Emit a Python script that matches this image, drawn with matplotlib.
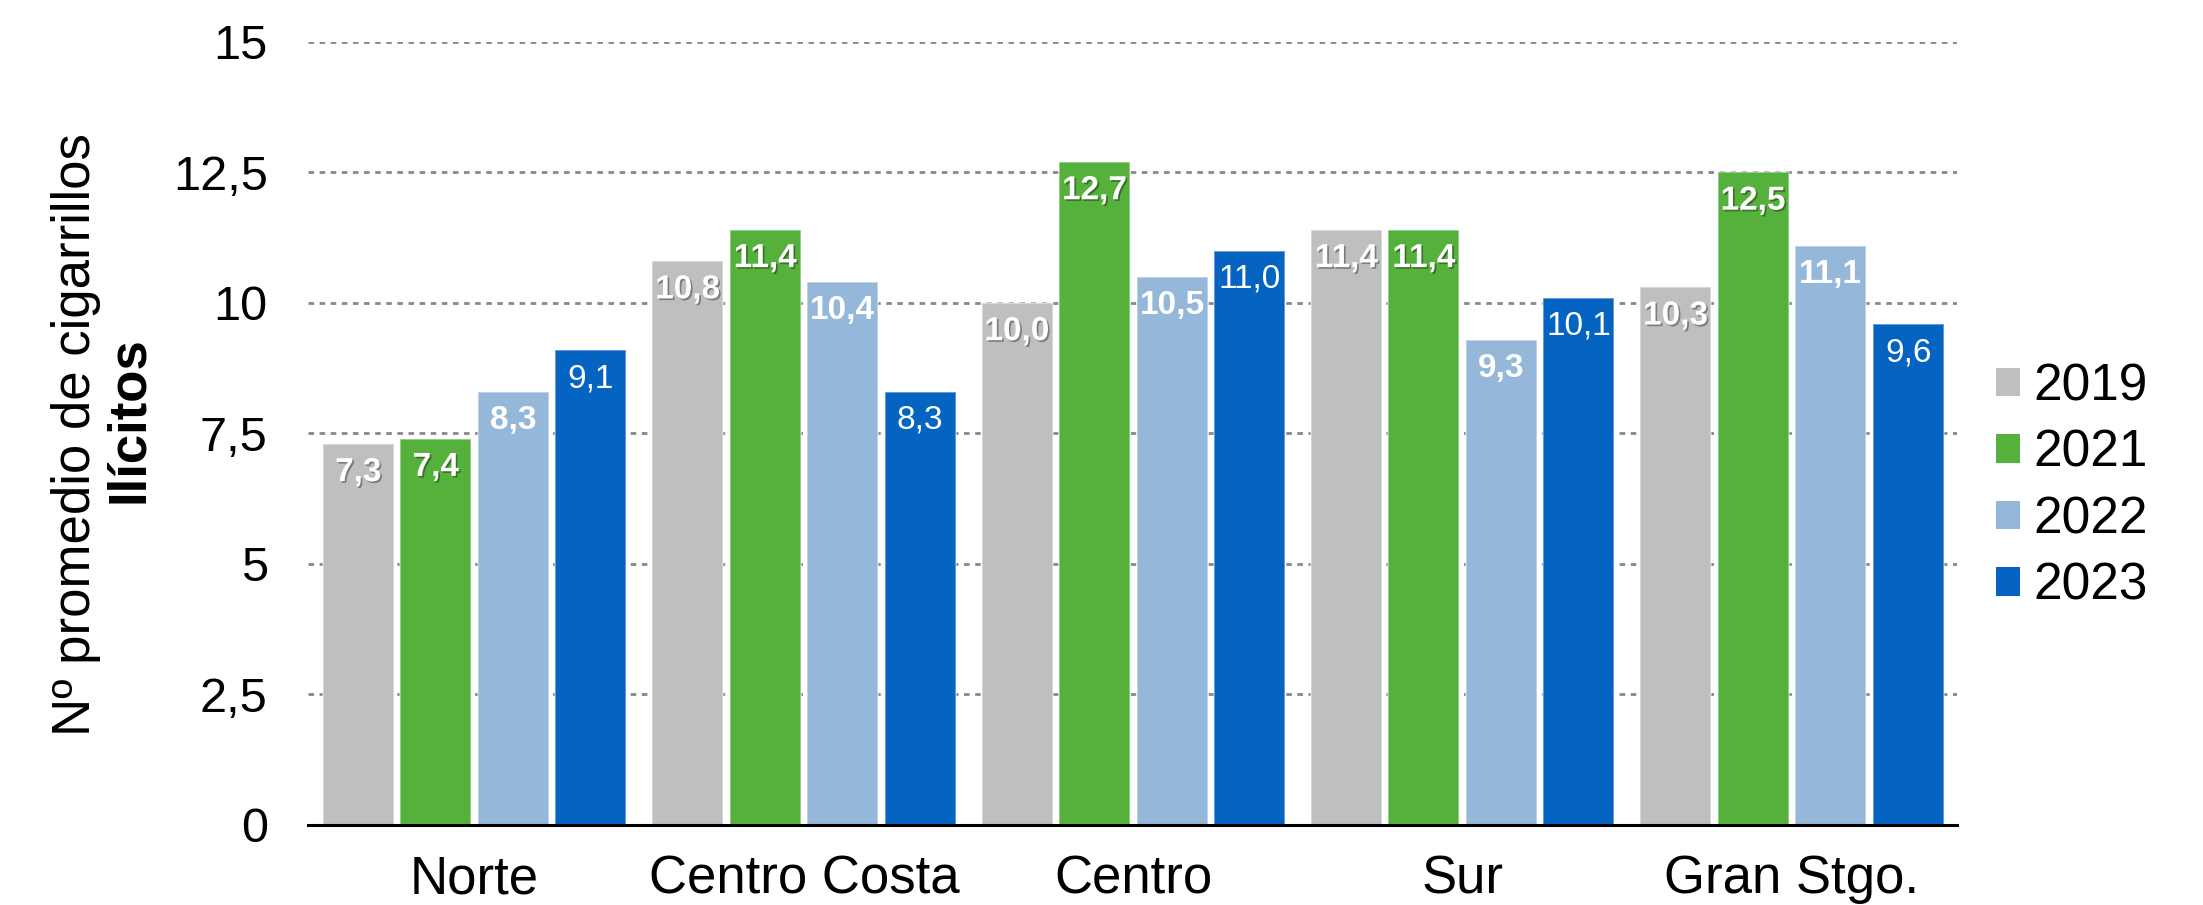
import matplotlib
matplotlib.use('Agg')
import matplotlib.pyplot as plt
import matplotlib.patheffects as pe
from matplotlib.patches import Patch
import numpy as np

plt.rcParams['font.family'] = ['Liberation Sans', 'DejaVu Sans']

regions = ['Norte', 'Centro Costa', 'Centro', 'Sur', 'Gran Stgo.']
years = ['2019', '2021', '2022', '2023']
v2019 = [7.3, 10.8, 10.0, 11.4, 10.3]
v2021 = [7.4, 11.4, 12.7, 11.4, 12.5]
v2022 = [8.3, 10.4, 10.5, 9.3, 11.1]
v2023 = [9.1, 8.3, 11.0, 10.1, 9.6]
yticks = [0, 2.5, 5, 7.5, 10, 12.5, 15]
ytick_labels = ['0', '2,5', '5', '7,5', '10', '12,5', '15']

series = [v2019, v2021, v2022, v2023]
colors = ['#BFBFBF', '#55B03C', '#95B7D9', '#0563C1']
label_weight = ['bold', 'bold', 'bold', 'normal']
label_shadow = [True, True, False, False]

fig = plt.figure(figsize=(22.03, 9.05), dpi=100)
ax = fig.add_axes([0.1398, 0.0884, 0.7485, 0.8652])

x = np.arange(len(regions))
step = 0.2353
width = 0.2156
for i, vals in enumerate(series):
    pos = x + (i - 1.5) * step
    bars = ax.bar(pos, vals, width=width, color=colors[i], zorder=3,
                  edgecolor=(1, 1, 1, 0.45), linewidth=1.2)
    for b, v in zip(bars, vals):
        effects = None
        if label_shadow[i]:
            effects = [pe.withSimplePatchShadow(offset=(1.2, -1.2), shadow_rgbFace='black', alpha=0.35)]
        ax.annotate(f'{v:.1f}'.replace('.', ','),
                    (b.get_x() + b.get_width() / 2, v),
                    xytext=(0, -9.5), textcoords='offset points',
                    ha='center', va='top', color='white', fontsize=24,
                    fontweight=label_weight[i], zorder=4, path_effects=effects)

ax.set_xlim(-0.506, 4.501)
ax.set_ylim(0, 15)
ax.set_yticks(yticks)
ax.set_yticklabels(ytick_labels)
ax.set_xticks(x)
ax.set_xticklabels(regions)
ax.tick_params(axis='y', length=0, pad=29, labelsize=35)
ax.tick_params(axis='x', length=0, pad=21, labelsize=38)

for y in yticks[1:]:
    ax.axhline(y, color='#888888', linewidth=2.0, linestyle=(0, (2.0, 2.0)), zorder=1)

for s in ['top', 'right', 'left']:
    ax.spines[s].set_visible(False)
ax.spines['bottom'].set_linewidth(2.2)
ax.spines['bottom'].set_color('black')
ax.spines['bottom'].set_zorder(5)

fig.text(0.0409, 0.5193, 'Nº promedio de cigarrillos', rotation=90, rotation_mode='anchor',
         ha='center', va='baseline', fontsize=38)
fig.text(0.0649, 0.5359, 'Ilícitos', rotation=90, rotation_mode='anchor',
         ha='center', va='baseline', fontsize=38, fontweight='bold')

handles = [Patch(facecolor=c, edgecolor='none') for c in colors]
fig.legend(handles, years, loc='center left', bbox_to_anchor=(0.906, 0.4624),
           frameon=False, fontsize=37, handlelength=0.47, handleheight=0.47,
           handletextpad=0.25, labelspacing=0.34, borderpad=0, borderaxespad=0)

fig.savefig('out.png', dpi=100)
